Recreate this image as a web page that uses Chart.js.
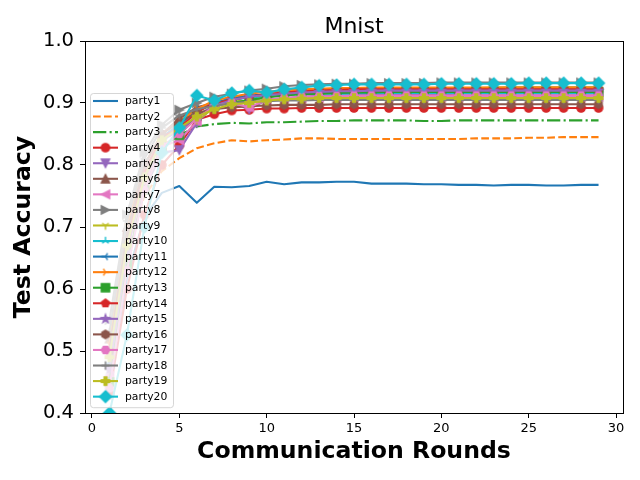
<!DOCTYPE html>
<html>
<head>
<meta charset="utf-8">
<title>Mnist</title>
<script src="https://cdn.jsdelivr.net/npm/chart.js@4/dist/chart.umd.min.js"></script>
<style>
  html, body { margin: 0; padding: 0; background: #fff; }
  canvas { display: block; }
</style>
</head>
<body>
<canvas id="accChart" width="640" height="480"></canvas>
<script>
// --- data ---
const rounds = [1, 2, 3, 4, 5, 6, 7, 8, 9, 10, 11, 12, 13, 14, 15, 16, 17, 18, 19, 20, 21, 22, 23, 24, 25, 26, 27, 28, 29];
const xTicks = [0, 5, 10, 15, 20, 25, 30];
const yTicks = [0.4, 0.5, 0.6, 0.7, 0.8, 0.9, 1.0];
const partyNames = ['party1', 'party2', 'party3', 'party4', 'party5', 'party6', 'party7', 'party8', 'party9', 'party10',
                    'party11', 'party12', 'party13', 'party14', 'party15', 'party16', 'party17', 'party18', 'party19', 'party20'];

const party1  = [0.452, 0.618, 0.716, 0.755, 0.766, 0.739, 0.765, 0.764, 0.766, 0.773, 0.769, 0.772, 0.772, 0.773, 0.773, 0.770, 0.770, 0.770, 0.769, 0.769, 0.768, 0.768, 0.767, 0.768, 0.768, 0.767, 0.767, 0.768, 0.768];
const party2  = [0.500, 0.660, 0.750, 0.790, 0.811, 0.827, 0.835, 0.840, 0.838, 0.840, 0.841, 0.843, 0.843, 0.842, 0.842, 0.842, 0.842, 0.842, 0.842, 0.842, 0.842, 0.843, 0.843, 0.843, 0.844, 0.844, 0.845, 0.845, 0.845];
const party3  = [0.480, 0.680, 0.780, 0.830, 0.848, 0.862, 0.866, 0.868, 0.867, 0.869, 0.869, 0.870, 0.871, 0.871, 0.872, 0.872, 0.872, 0.872, 0.871, 0.871, 0.872, 0.872, 0.872, 0.872, 0.872, 0.872, 0.872, 0.872, 0.872];
const party4  = [0.430, 0.600, 0.720, 0.800, 0.832, 0.873, 0.882, 0.888, 0.889, 0.891, 0.891, 0.892, 0.892, 0.892, 0.892, 0.892, 0.892, 0.892, 0.892, 0.892, 0.892, 0.892, 0.892, 0.892, 0.892, 0.892, 0.892, 0.892, 0.892];
const party5  = [0.470, 0.640, 0.760, 0.820, 0.824, 0.868, 0.896, 0.900, 0.890, 0.905, 0.908, 0.910, 0.912, 0.912, 0.913, 0.913, 0.914, 0.914, 0.914, 0.914, 0.915, 0.915, 0.915, 0.915, 0.915, 0.915, 0.915, 0.915, 0.915];
const party6  = [0.520, 0.700, 0.800, 0.850, 0.875, 0.893, 0.900, 0.906, 0.910, 0.914, 0.917, 0.919, 0.920, 0.921, 0.922, 0.922, 0.923, 0.923, 0.923, 0.924, 0.924, 0.924, 0.924, 0.925, 0.925, 0.925, 0.925, 0.925, 0.925];
const party7  = [0.460, 0.660, 0.770, 0.830, 0.840, 0.870, 0.898, 0.900, 0.893, 0.905, 0.907, 0.908, 0.909, 0.909, 0.910, 0.910, 0.910, 0.910, 0.910, 0.910, 0.910, 0.910, 0.910, 0.910, 0.910, 0.910, 0.910, 0.910, 0.910];
const party8  = [0.550, 0.720, 0.820, 0.865, 0.889, 0.900, 0.910, 0.915, 0.920, 0.923, 0.927, 0.929, 0.930, 0.931, 0.931, 0.932, 0.932, 0.932, 0.932, 0.933, 0.933, 0.933, 0.933, 0.933, 0.933, 0.933, 0.933, 0.933, 0.933];
const party9  = [0.490, 0.670, 0.780, 0.840, 0.860, 0.872, 0.892, 0.905, 0.902, 0.910, 0.914, 0.917, 0.919, 0.920, 0.921, 0.922, 0.922, 0.923, 0.923, 0.924, 0.924, 0.924, 0.925, 0.925, 0.925, 0.925, 0.925, 0.925, 0.925];
const party10 = [0.500, 0.690, 0.790, 0.840, 0.870, 0.890, 0.900, 0.905, 0.909, 0.911, 0.913, 0.914, 0.915, 0.915, 0.915, 0.916, 0.916, 0.916, 0.916, 0.916, 0.916, 0.916, 0.916, 0.916, 0.916, 0.916, 0.916, 0.916, 0.916];
const party11 = [0.480, 0.680, 0.790, 0.845, 0.865, 0.888, 0.900, 0.908, 0.912, 0.914, 0.915, 0.916, 0.917, 0.917, 0.917, 0.918, 0.918, 0.918, 0.918, 0.918, 0.918, 0.918, 0.918, 0.918, 0.918, 0.918, 0.918, 0.918, 0.918];
const party12 = [0.510, 0.700, 0.800, 0.850, 0.870, 0.890, 0.904, 0.910, 0.915, 0.918, 0.920, 0.922, 0.923, 0.924, 0.924, 0.925, 0.925, 0.925, 0.925, 0.925, 0.925, 0.925, 0.925, 0.925, 0.925, 0.925, 0.925, 0.925, 0.925];
const party13 = [0.450, 0.640, 0.760, 0.830, 0.848, 0.880, 0.895, 0.900, 0.905, 0.909, 0.912, 0.914, 0.915, 0.916, 0.917, 0.917, 0.918, 0.918, 0.918, 0.918, 0.918, 0.918, 0.918, 0.918, 0.918, 0.918, 0.918, 0.918, 0.918];
const party14 = [0.500, 0.680, 0.790, 0.845, 0.860, 0.885, 0.900, 0.905, 0.910, 0.914, 0.917, 0.919, 0.920, 0.921, 0.922, 0.922, 0.922, 0.922, 0.922, 0.922, 0.922, 0.922, 0.922, 0.922, 0.922, 0.922, 0.922, 0.922, 0.922];
const party15 = [0.470, 0.660, 0.780, 0.840, 0.855, 0.880, 0.895, 0.905, 0.910, 0.913, 0.915, 0.917, 0.918, 0.919, 0.919, 0.920, 0.920, 0.920, 0.920, 0.920, 0.920, 0.920, 0.920, 0.920, 0.920, 0.920, 0.920, 0.920, 0.920];
const party16 = [0.500, 0.690, 0.800, 0.850, 0.870, 0.884, 0.890, 0.893, 0.895, 0.896, 0.897, 0.897, 0.897, 0.898, 0.898, 0.898, 0.898, 0.898, 0.898, 0.898, 0.898, 0.898, 0.898, 0.898, 0.898, 0.898, 0.898, 0.898, 0.898];
const party17 = [0.440, 0.630, 0.760, 0.830, 0.850, 0.875, 0.895, 0.900, 0.893, 0.905, 0.908, 0.910, 0.911, 0.911, 0.912, 0.912, 0.912, 0.912, 0.912, 0.912, 0.912, 0.912, 0.912, 0.912, 0.912, 0.912, 0.912, 0.912, 0.912];
const party18 = [0.530, 0.710, 0.810, 0.860, 0.880, 0.890, 0.895, 0.900, 0.902, 0.903, 0.904, 0.904, 0.905, 0.905, 0.905, 0.905, 0.905, 0.905, 0.905, 0.905, 0.905, 0.905, 0.905, 0.905, 0.905, 0.905, 0.905, 0.905, 0.905];
const party19 = [0.490, 0.670, 0.780, 0.840, 0.860, 0.878, 0.890, 0.898, 0.900, 0.904, 0.906, 0.907, 0.908, 0.908, 0.908, 0.908, 0.908, 0.908, 0.908, 0.908, 0.908, 0.908, 0.908, 0.908, 0.908, 0.908, 0.908, 0.908, 0.908];
const party20 = [0.400, 0.526, 0.700, 0.820, 0.860, 0.912, 0.904, 0.916, 0.920, 0.917, 0.922, 0.925, 0.928, 0.929, 0.930, 0.930, 0.930, 0.930, 0.930, 0.931, 0.931, 0.931, 0.931, 0.931, 0.932, 0.932, 0.932, 0.932, 0.932];

const allParties = [party1, party2, party3, party4, party5, party6, party7, party8, party9, party10,
                    party11, party12, party13, party14, party15, party16, party17, party18, party19, party20];

// --- look: matplotlib tab10 cycle + marker per party ---
const tab10 = ['#1f77b4', '#ff7f0e', '#2ca02c', '#d62728', '#9467bd', '#8c564b', '#e377c2', '#7f7f7f', '#bcbd22', '#17becf'];
const markerKinds = [null, null, null, 'o', 'v', '^', '<', '>', '1', '2', '3', '4', 's', 'p', '*', 'h', 'H', '+', 'P', 'D'];
const FONT = '"DejaVu Sans", "Liberation Sans", sans-serif';
const LW = 2.08;          // 1.5pt
const MS = 8.33;          // 6pt marker
const MEW = 1.39;         // 1pt edge

function dashFor(i) {
  if (i === 1) return [7.7, 3.3];
  if (i === 2) return [13.3, 3.3, 2.1, 3.3];
  return [];
}

function polygon(c, n, r, rot) {
  c.beginPath();
  for (let k = 0; k < n; k++) {
    const a = rot + k * 2 * Math.PI / n;
    const px = r * Math.sin(a), py = -r * Math.cos(a);
    if (k === 0) c.moveTo(px, py); else c.lineTo(px, py);
  }
  c.closePath();
}

// small canvas used as a Chart.js pointStyle
function makeMarker(kind, color) {
  const size = 20;
  const cv = document.createElement('canvas');
  cv.width = size; cv.height = size;
  const c = cv.getContext('2d');
  c.translate(size / 2, size / 2);
  c.fillStyle = color;
  c.strokeStyle = color;
  c.lineWidth = MEW;
  c.lineJoin = 'miter';
  const h = MS / 2;
  let filled = true;
  switch (kind) {
    case 'o': c.beginPath(); c.arc(0, 0, h, 0, Math.PI * 2); break;
    case 'v': c.beginPath(); c.moveTo(0, h); c.lineTo(-h, -h); c.lineTo(h, -h); c.closePath(); break;
    case '^': c.beginPath(); c.moveTo(0, -h); c.lineTo(-h, h); c.lineTo(h, h); c.closePath(); break;
    case '<': c.beginPath(); c.moveTo(-h, 0); c.lineTo(h, -h); c.lineTo(h, h); c.closePath(); break;
    case '>': c.beginPath(); c.moveTo(h, 0); c.lineTo(-h, -h); c.lineTo(-h, h); c.closePath(); break;
    case 's': c.beginPath(); c.rect(-h, -h, MS, MS); break;
    case 'p': polygon(c, 5, h, 0); break;
    case 'h': polygon(c, 6, h, 0); break;
    case 'H': polygon(c, 6, h, Math.PI / 6); break;
    case 'D': polygon(c, 4, h * Math.SQRT2, 0); break;
    case '*': {
      c.beginPath();
      for (let k = 0; k < 10; k++) {
        const r = k % 2 ? h * 0.382 : h;
        const a = k * Math.PI / 5;
        const px = r * Math.sin(a), py = -r * Math.cos(a);
        if (k === 0) c.moveTo(px, py); else c.lineTo(px, py);
      }
      c.closePath();
      break;
    }
    case 'P': {
      const a = h / 3;
      c.beginPath();
      c.moveTo(-a, -h); c.lineTo(a, -h); c.lineTo(a, -a); c.lineTo(h, -a); c.lineTo(h, a); c.lineTo(a, a);
      c.lineTo(a, h); c.lineTo(-a, h); c.lineTo(-a, a); c.lineTo(-h, a); c.lineTo(-h, -a); c.lineTo(-a, -a);
      c.closePath();
      break;
    }
    default: {
      // line-only markers: + and the four tri shapes
      filled = false;
      const spokes = {
        '+': [[0, -h], [0, h], [-h, 0], [h, 0]],
        '1': [[0, h], [0.8 * h, -0.5 * h], [-0.8 * h, -0.5 * h]],
        '2': [[0, -h], [0.8 * h, 0.5 * h], [-0.8 * h, 0.5 * h]],
        '3': [[-h, 0], [0.5 * h, -0.8 * h], [0.5 * h, 0.8 * h]],
        '4': [[h, 0], [-0.5 * h, -0.8 * h], [-0.5 * h, 0.8 * h]]
      }[kind];
      c.beginPath();
      spokes.forEach(([px, py]) => { c.moveTo(0, 0); c.lineTo(px, py); });
    }
  }
  if (filled) c.fill();
  c.stroke();
  return cv;
}

const datasets = allParties.map((vals, i) => {
  const color = tab10[i % 10];
  const kind = markerKinds[i];
  const marker = kind ? makeMarker(kind, color) : false;
  return {
    label: partyNames[i],
    data: rounds.map((r, k) => ({ x: r, y: vals[k] })),
    borderColor: color,
    backgroundColor: color,
    borderWidth: LW,
    borderDash: dashFor(i),
    borderJoinStyle: 'round',
    pointStyle: marker,
    pointRadius: kind ? 5 : 0,
    pointHoverRadius: kind ? 5 : 0,
    tension: 0,
    fill: false,
    clip: 0,
    order: allParties.length - 1 - i,   // later parties drawn on top
    _marker: marker
  };
});

// frame (top/right spines) and title
const framePlugin = {
  id: 'frame',
  afterDraw(chart) {
    const { ctx, chartArea: a } = chart;
    ctx.save();
    ctx.strokeStyle = '#000';
    ctx.lineWidth = 1;
    ctx.strokeRect(Math.round(a.left) + 0.5, Math.round(a.top) + 0.5, Math.round(a.right - a.left), Math.round(a.bottom - a.top));
    ctx.fillStyle = '#000';
    ctx.font = '22px ' + FONT;
    ctx.textAlign = 'center';
    ctx.textBaseline = 'alphabetic';
    ctx.fillText('Mnist', (a.left + a.right) / 2, 33);
    ctx.restore();
  }
};

// matplotlib-like legend, semi transparent, drawn over the lines
const legendPlugin = {
  id: 'mplLegend',
  afterDraw(chart) {
    const { ctx, chartArea: a } = chart;
    const x0 = a.left + 5, y0 = a.top + 52, w = 83, rowH = 15.56;
    const hgt = rowH * partyNames.length + 3;
    ctx.save();
    ctx.beginPath();
    ctx.roundRect(x0 + 0.5, y0 + 0.5, w, hgt, 3);
    ctx.fillStyle = 'rgba(255,255,255,0.8)';
    ctx.fill();
    ctx.strokeStyle = 'rgba(204,204,204,0.8)';
    ctx.lineWidth = 1;
    ctx.stroke();
    chart.data.datasets.forEach((ds, i) => {
      const cy = y0 + 8 + i * rowH;
      ctx.beginPath();
      ctx.setLineDash(ds.borderDash);
      ctx.strokeStyle = ds.borderColor;
      ctx.lineWidth = LW;
      ctx.moveTo(x0 + 3, cy);
      ctx.lineTo(x0 + 28, cy);
      ctx.stroke();
      ctx.setLineDash([]);
      if (ds._marker) ctx.drawImage(ds._marker, x0 + 15.5 - 10, cy - 10);
      ctx.fillStyle = '#000';
      ctx.font = '10.8px ' + FONT;
      ctx.textAlign = 'left';
      ctx.textBaseline = 'middle';
      ctx.fillText(ds.label, x0 + 35, cy + 0.5);
    });
    ctx.restore();
  }
};

const ctx = document.getElementById('accChart');
new Chart(ctx, {
  type: 'line',
  data: { datasets },
  options: {
    responsive: false,
    animation: false,
    devicePixelRatio: 1,
    layout: { padding: { top: 41, right: 17, left: 0, bottom: 0 } },
    plugins: { legend: { display: false }, tooltip: { enabled: false }, title: { display: false } },
    scales: {
      x: {
        type: 'linear',
        min: -0.4,
        max: 30.4,
        afterBuildTicks: s => { s.ticks = xTicks.map(v => ({ value: v })); },
        afterFit: s => { s.height = 67; },
        grid: { drawOnChartArea: false, drawTicks: true, tickLength: 5, color: '#000', tickWidth: 1 },
        border: { display: true, color: '#000', width: 1 },
        ticks: { color: '#000', font: { family: FONT, size: 13 }, padding: 3, maxRotation: 0, autoSkip: false },
        title: { display: true, text: 'Communication Rounds', color: '#000',
                 font: { family: FONT, size: 23.6, weight: 'bold' }, padding: { top: 0, bottom: 14 } }
      },
      y: {
        min: 0.4,
        max: 1.0,
        afterBuildTicks: s => { s.ticks = yTicks.map(v => ({ value: v })); },
        afterFit: s => { s.width = 85; },
        grid: { drawOnChartArea: false, drawTicks: true, tickLength: 5, color: '#000', tickWidth: 1 },
        border: { display: true, color: '#000', width: 1 },
        ticks: { color: '#000', font: { family: FONT, size: 19.5 }, padding: 6, callback: v => Number(v).toFixed(1) },
        title: { display: true, text: 'Test Accuracy', color: '#000',
                 font: { family: FONT, size: 23.6, weight: 'bold' }, padding: { top: 10, bottom: 0 } }
      }
    }
  },
  plugins: [framePlugin, legendPlugin]
});
</script>
</body>
</html>
